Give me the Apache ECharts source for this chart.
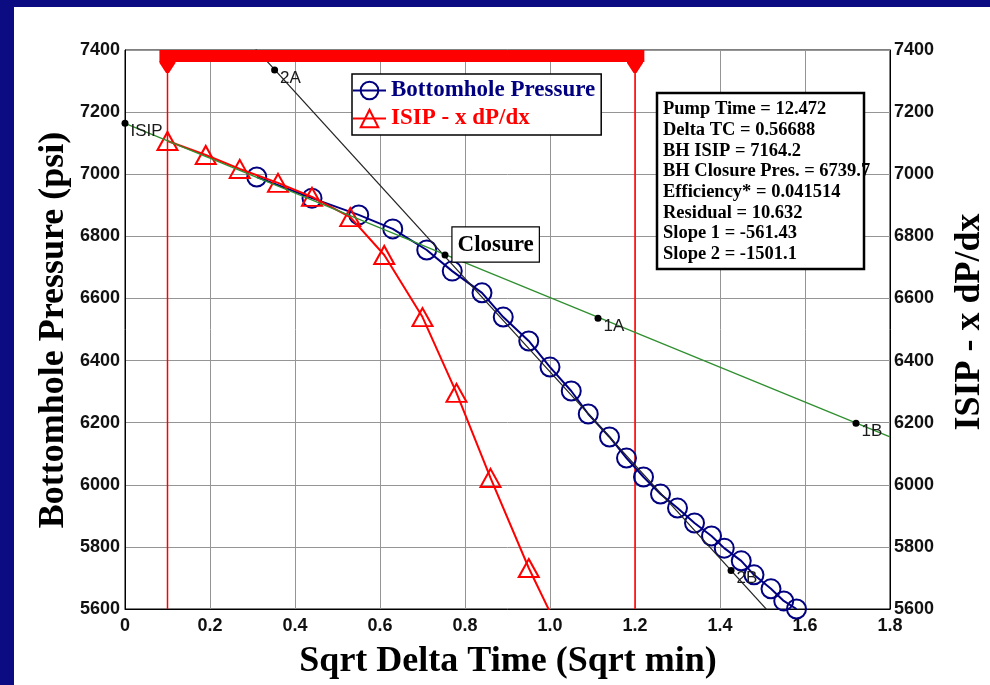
<!DOCTYPE html>
<html>
<head>
<meta charset="utf-8">
<script src="https://cdn.jsdelivr.net/npm/echarts@6/dist/echarts.min.js"></script>
<style>
  html, body { margin:0; padding:0; width:990px; height:685px; overflow:hidden; background:#0c0c82; }
  #panel { position:absolute; left:14px; top:7px; width:976px; height:678px; background:#fff; }
  #c { position:absolute; left:0; top:0; width:990px; height:685px; }
</style>
</head>
<body>
<div id="panel"></div>
<div id="c"></div>
<script>
// ---- data ----
const bhX = [0.31,0.44,0.55,0.63,0.71,0.77,0.84,0.89,0.95,1.00,1.05,1.09,1.14,1.18,1.22,1.26,1.30,1.34,1.38,1.41,1.45,1.48,1.52,1.55,1.58];
const bhY = [6991,6923,6869,6824,6756,6688,6618,6540,6463,6379,6302,6228,6154,6086,6025,5970,5925,5877,5835,5796,5755,5710,5665,5626,5600];
const isipX = [0.10,0.19,0.27,0.36,0.44,0.53,0.61,0.70,0.78,0.86,0.95,1.03];
const isipY = [7107,7062,7017,6972,6927,6862,6740,6540,6296,6022,5732,5505];
const slope1X = [0, 1.8];
const slope1Y = [7164, 6154];
const slope2X = [0.30, 1.52];
const slope2Y = [7415, 5583];
const pointNames = ['ISIP','2A','1A','1B','2B'];
const pointX = [0, 0.352, 1.113, 1.72, 1.426];
const pointY = [7164, 7336, 6536, 6198, 5724];
const closureX = 0.753, closureY = 6740;
const markerX = [0.1, 1.2];          // vertical red lines
const barRange = [0.081, 1.222];     // red bar at top
const xTicks = [0,0.2,0.4,0.6,0.8,1.0,1.2,1.4,1.6,1.8];
const yMin = 5600, yMax = 7400, yStep = 200;
const statsLines = [
  'Pump Time = 12.472',
  'Delta TC = 0.56688',
  'BH ISIP = 7164.2',
  'BH Closure Pres. = 6739.7',
  'Efficiency* = 0.041514',
  'Residual = 10.632',
  'Slope 1 = -561.43',
  'Slope 2 = -1501.1'
];
const nameBH = 'Bottomhole Pressure';
const nameISIP = 'ISIP - x dP/dx';

const zip = (a, b) => a.map((v, i) => [v, b[i]]);
const serif = "'Liberation Serif','Times New Roman',serif";
const sans = "'Liberation Sans',Arial,sans-serif";
const NAVY = '#000080', RED = '#ff0000', GREEN = '#2f8f2f';
const pxToPsi = (yMax - yMin) / 559;

const chart = echarts.init(document.getElementById('c'), null, {renderer:'canvas', width:990, height:685});

const axisLabel = {color:'#111', fontWeight:'bold', fontSize:18, fontFamily:sans};
const option = {
  backgroundColor:'transparent',
  animation:false,
  grid:{left:125, top:50, width:765, height:559, show:true, backgroundColor:'#fff', borderColor:'#000', borderWidth:1},
  legend:{
    left:352, top:74, orient:'vertical',
    padding:[5,6,5,0], itemWidth:33, itemHeight:22, itemGap:5,
    backgroundColor:'#fff', borderColor:'#000', borderWidth:1.5, borderRadius:0,
    textStyle:{fontFamily:serif, fontWeight:'bold', fontSize:23, padding:[0,0,0,0]},
    data:[
      {name:nameBH, textStyle:{color:NAVY}},
      {name:nameISIP, textStyle:{color:RED}}
    ]
  },
  xAxis:{
    type:'value', min:xTicks[0], max:xTicks[xTicks.length-1], interval:0.2,
    axisLine:{lineStyle:{color:'#000', width:1}},
    axisTick:{show:false},
    splitLine:{show:true, lineStyle:{color:'#959595', width:1}},
    axisLabel:Object.assign({margin:8, formatter:v => v === 0 ? '0' : v.toFixed(1)}, axisLabel)
  },
  yAxis:[
    {type:'value', min:yMin, max:yMax, interval:yStep, position:'left',
     axisLine:{show:true, lineStyle:{color:'#000'}}, axisTick:{show:false},
     splitLine:{show:true, lineStyle:{color:'#959595', width:1}},
     axisLabel:Object.assign({margin:5, formatter:v => String(v)}, axisLabel)},
    {type:'value', min:yMin, max:yMax, interval:yStep, position:'right',
     axisLine:{show:true, lineStyle:{color:'#000'}}, axisTick:{show:false},
     splitLine:{show:false},
     axisLabel:Object.assign({margin:4, formatter:v => String(v)}, axisLabel)}
  ],
  series:[
    {name:'vlines1', type:'line', data:[[markerX[0], yMax],[markerX[0], yMin]], symbol:'none',
     lineStyle:{color:RED, width:1.5}, silent:true, z:1},
    {name:'vlines2', type:'line', data:[[markerX[1], yMax],[markerX[1], yMin]], symbol:'none',
     lineStyle:{color:RED, width:1.5}, silent:true, z:1},
    {name:nameBH, type:'line', data:zip(bhX, bhY), symbol:'circle', symbolSize:19,
     lineStyle:{color:NAVY, width:2}, itemStyle:{color:'rgba(0,0,0,0)', borderColor:NAVY, borderWidth:2},
     clip:false, z:3},
    {name:nameISIP, type:'line', data:zip(isipX, isipY), symbol:'triangle', symbolSize:[20,18],
     lineStyle:{color:RED, width:2}, itemStyle:{color:'rgba(0,0,0,0)', borderColor:RED, borderWidth:2},
     clip:true, z:4},
    {name:'slope2', type:'line', data:zip(slope2X, slope2Y), symbol:'none',
     lineStyle:{color:'#222', width:1.2}, clip:true, z:5},
    {name:'slope1', type:'line', data:zip(slope1X, slope1Y), symbol:'none',
     lineStyle:{color:GREEN, width:1.3}, clip:true, z:5},
    {name:'pts', type:'scatter', data:pointNames.map((n,i)=>({name:n, value:[pointX[i], pointY[i]]})),
     symbol:'circle', symbolSize:7, itemStyle:{color:'#000', opacity:1}, clip:false, z:6,
     label:{show:true, position:'right', distance:2, offset:[0,8], formatter:'{b}',
            color:'#1a1a1a', fontFamily:sans, fontSize:17}},
    {name:'closure', type:'scatter', data:[{name:'Closure', value:[closureX, closureY]}],
     symbol:'circle', symbolSize:7, itemStyle:{color:'#000', opacity:1}, z:7,
     label:{show:true, position:[11,-24], align:'left', verticalAlign:'top', formatter:'{b}',
            color:'#000', fontFamily:serif, fontWeight:'bold', fontSize:23,
            backgroundColor:'#fff', borderColor:'#000', borderWidth:1.2, padding:[6,5,5,5]}},
    {name:'bar', type:'line', data:[[barRange[0], yMax - 6*pxToPsi],[barRange[1], yMax - 6*pxToPsi]], symbol:'none',
     lineStyle:{color:RED, width:12, cap:'butt'}, clip:false, z:8},
    {name:'barMarks', type:'scatter', data:markerX.map(x => [x, yMax - 17*pxToPsi]),
     symbol:'path://M0,0 L16,0 L16,2 L9.5,12 L6.5,12 L0,2 Z', symbolSize:[16,12], symbolKeepAspect:false,
     itemStyle:{color:RED, opacity:1}, clip:false, z:8}
  ],
  graphic:[
    {type:'text', x:508, y:662, style:{text:'Sqrt Delta Time (Sqrt min)', font:'bold 36px ' + serif,
      fill:'#000', textAlign:'center', textVerticalAlign:'middle'}},
    {type:'text', x:54, y:330, rotation:Math.PI/2, style:{text:'Bottomhole Pressure (psi)', font:'bold 36px ' + serif,
      fill:'#000', textAlign:'center', textVerticalAlign:'middle'}},
    {type:'text', x:970, y:322, rotation:Math.PI/2, style:{text:'ISIP - x dP/dx', font:'bold 36px ' + serif,
      fill:'#000', textAlign:'center', textVerticalAlign:'middle'}},
    {type:'rect', shape:{x:657, y:93, width:207, height:176}, style:{fill:'#fff', stroke:'#000', lineWidth:2.5}, z:100},
    {type:'text', x:663, y:99, z:101, style:{text:statsLines.join('\n'), font:'bold 18.5px ' + serif,
      fill:'#000', lineHeight:20.7, textAlign:'left', textVerticalAlign:'top'}}
  ]
};
chart.setOption(option);
</script>
</body>
</html>
